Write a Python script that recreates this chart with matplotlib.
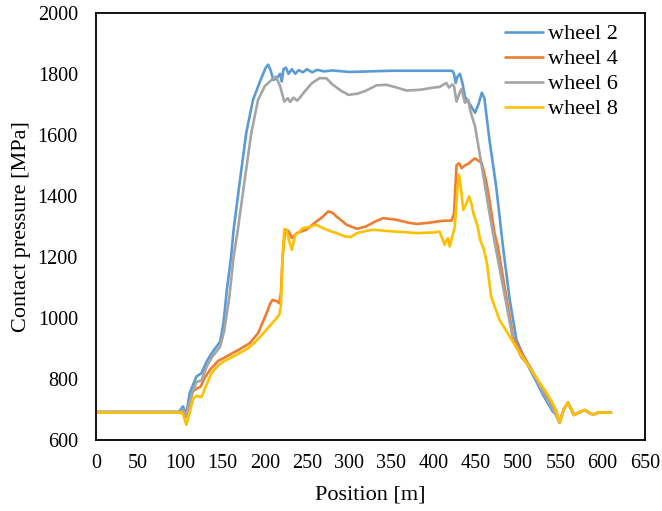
import numpy as np
import matplotlib
matplotlib.use("Agg")
import matplotlib.pyplot as plt

# Contact pressure along the track
tail_x = [549, 554, 559, 563, 566, 572, 579, 585, 589, 595, 610]
tail_y = [657, 700, 722, 700, 682, 690, 698, 688, 683, 690, 690]

w2_x = [0, 98, 103, 107, 111, 119, 125, 131, 137, 147, 151, 155, 160, 163, 170,
        178, 186, 195, 201, 204, 207, 210, 214, 218, 220, 222, 225, 228, 232,
        236, 240, 245, 250, 256, 262, 270, 280, 300, 350, 400, 422, 424, 426,
        428, 431, 434, 437, 443, 449, 453, 457, 460, 466, 474, 482, 490, 498,
        510, 520, 530, 541, 545]
w2_y = [692, 692, 710, 685, 754, 808, 819, 857, 884, 922, 983, 1092, 1200,
        1289, 1440, 1607, 1715, 1780, 1820, 1830, 1810, 1780, 1785, 1800, 1775,
        1815, 1820, 1800, 1815, 1800, 1812, 1805, 1815, 1805, 1813, 1808, 1811,
        1806, 1810, 1810, 1810, 1800, 1770, 1790, 1800, 1770, 1725, 1700, 1672,
        1700, 1738, 1720, 1584, 1430, 1234, 1060, 928, 852, 800, 745, 693, 685]

w4_x = [0, 100, 103, 106, 110, 115, 119, 124, 128, 135, 145, 151, 160, 170, 182,
        192, 202, 206, 209, 214, 217, 219, 221, 224, 228, 232, 238, 249, 261,
        268, 275, 280, 285, 297, 309, 320, 330, 340, 355, 370, 380, 395, 410,
        421, 424, 427, 430, 433, 437, 441, 445, 449, 453, 457, 462, 466, 472,
        476, 481, 486, 494, 502, 515, 528, 540, 545]
w4_y = [690, 690, 688, 675, 715, 760, 768, 775, 800, 830, 860, 868, 882, 897,
        917, 950, 1015, 1045, 1059, 1055, 1048, 1080, 1200, 1290, 1285, 1262,
        1278, 1289, 1316, 1330, 1349, 1345, 1332, 1305, 1292, 1300, 1315, 1327,
        1322, 1312, 1308, 1312, 1318, 1319, 1340, 1500, 1507, 1491, 1500, 1505,
        1515, 1523, 1515, 1507, 1450, 1387, 1278, 1234, 1150, 1070, 939, 895,
        835, 770, 715, 695]

w6_x = [0, 98, 103, 107, 113, 119, 125, 131, 137, 147, 152, 158, 163, 168, 176,
        184, 192, 200, 208, 213, 218, 223, 227, 230, 234, 238, 241, 248, 256,
        265, 273, 280, 290, 299, 310, 320, 332, 344, 356, 368, 385, 400, 407,
        412, 415, 418, 422, 424, 427, 431, 433, 437, 441, 443, 449, 457, 466,
        472, 483, 494, 504, 514, 525, 535, 545]
w6_y = [692, 692, 700, 682, 745, 790, 795, 840, 870, 905, 960, 1070, 1200,
        1289, 1450, 1607, 1715, 1760, 1780, 1791, 1760, 1709, 1720, 1708, 1722,
        1712, 1720, 1745, 1770, 1786, 1785, 1765, 1745, 1731, 1735, 1745, 1762,
        1764, 1755, 1745, 1748, 1755, 1757, 1765, 1770, 1755, 1765, 1760, 1709,
        1740, 1750, 1705, 1715, 1682, 1627, 1496, 1344, 1250, 1090, 928, 870,
        840, 780, 730, 680]

w8_x = [0, 100, 103, 107, 111, 115, 119, 125, 130, 137, 145, 151, 160, 170, 180,
        190, 200, 206, 212, 217, 219, 221, 223, 226, 229, 232, 236, 240, 245,
        255, 261, 269, 277, 285, 295, 302, 309, 320, 328, 344, 360, 380, 400,
        407, 413, 415, 417, 419, 421, 425, 428, 430, 432, 435, 438, 442, 445,
        447, 452, 455, 459, 463, 468, 478, 490, 502, 518, 534, 543]
w8_y = [690, 690, 685, 650, 690, 735, 745, 740, 775, 820, 845, 857, 870, 885,
        900, 925, 955, 975, 993, 1010, 1040, 1200, 1290, 1285, 1250, 1223, 1272,
        1280, 1294, 1300, 1305, 1294, 1285, 1278, 1267, 1265, 1278, 1285, 1289,
        1285, 1282, 1278, 1280, 1283, 1239, 1255, 1261, 1234, 1256, 1300, 1420,
        1469, 1430, 1354, 1370, 1398, 1370, 1343, 1300, 1256, 1228, 1180, 1070,
        993, 939, 884, 819, 753, 709]

labels = ["wheel 2", "wheel 4", "wheel 6", "wheel 8"]
colors = ["#5B9BD5", "#ED7D31", "#A5A5A5", "#FFC000"]

plt.rcParams["font.family"] = ["Liberation Serif", "DejaVu Serif"]

fig = plt.figure(figsize=(6.62, 5.11), dpi=100)
ax = fig.add_axes([0.145, 0.139, 0.829, 0.836])

series = [(w2_x, w2_y), (w4_x, w4_y), (w6_x, w6_y), (w8_x, w8_y)]
for (xs, ys), lab, col in zip(series, labels, colors):
    x = np.array(xs + tail_x)
    y = np.array(ys + tail_y)
    ax.plot(x, y, color=col, linewidth=1.9, label=lab, solid_capstyle="round")

ax.set_xlim(0, 650)
ax.set_ylim(600, 2000)
ax.set_xticks(np.arange(0, 651, 50))
ax.set_yticks(np.arange(600, 2001, 200))
ax.tick_params(axis="both", length=0, labelsize=14.5)
ax.tick_params(axis="x", pad=10)
ax.tick_params(axis="y", pad=13)
for s in ax.spines.values():
    s.set_linewidth(1.3)
    s.set_color("black")

ax.set_xlabel("Position [m]", fontsize=16, labelpad=9)
ax.set_ylabel("Contact pressure [MPa]", fontsize=16, labelpad=5)

ax.legend(loc="upper right", bbox_to_anchor=(0.971, 1.0), frameon=False,
          fontsize=16, handlelength=1.75, handletextpad=0.2,
          labelspacing=0.2, borderaxespad=0.1)

fig.savefig("out.png", dpi=100)
